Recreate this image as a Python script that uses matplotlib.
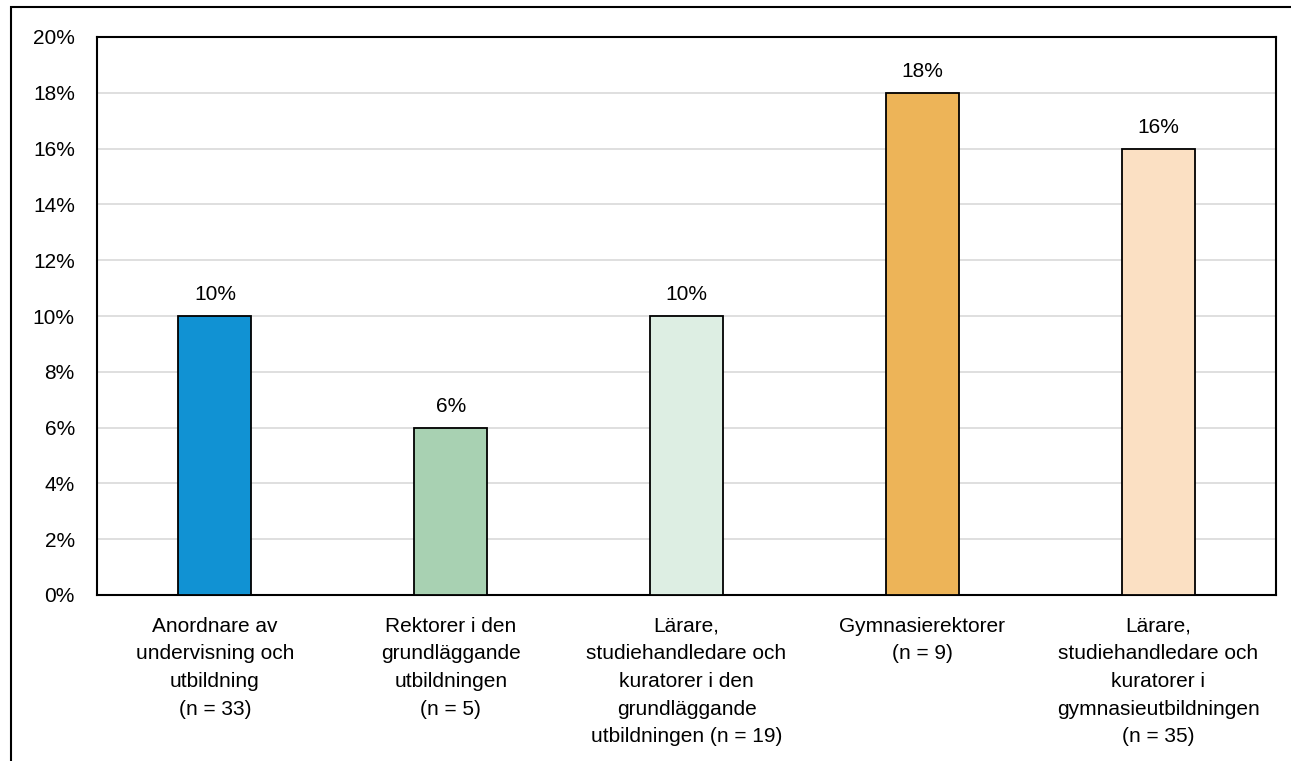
import matplotlib.pyplot as plt
import matplotlib.patches as mpatches
from matplotlib.ticker import FuncFormatter

categories = [
    'Anordnare av\nundervisning och\nutbildning\n(n = 33)',
    'Rektorer i den\ngrundläggande\nutbildningen\n(n = 5)',
    'Lärare,\nstudiehandledare och\nkuratorer i den\ngrundläggande\nutbildningen (n = 19)',
    'Gymnasierektorer\n(n = 9)',
    'Lärare,\nstudiehandledare och\nkuratorer i\ngymnasieutbildningen\n(n = 35)',
]
values = [10, 6, 10, 18, 16]
colors = ['#1192D3', '#A8D1B2', '#DDEEE3', '#EDB458', '#FBE0C3']

plt.rcParams['font.family'] = ['Liberation Sans', 'DejaVu Sans']

fig = plt.figure(figsize=(12.91, 7.61), dpi=100)
ax = fig.add_axes([97/1291, 1 - 595/761, 1179/1291, 558/761])

x = range(len(values))
bars = ax.bar(x, values, width=0.31, color=colors, edgecolor='black', linewidth=1.3, zorder=3)
for b, v in zip(bars, values):
    ax.annotate(f'{v}%', (b.get_x() + b.get_width()/2, v), xytext=(0, 8.5),
                textcoords='offset points', ha='center', va='bottom', fontsize=15)

ax.set_xlim(-0.5, 4.5)
ax.set_ylim(0, 20)
ax.set_yticks(range(0, 21, 2))
ax.yaxis.set_major_formatter(FuncFormatter(lambda v, p: f'{int(v)}%'))
ax.set_xticks(list(x))
ax.set_xticklabels(categories, fontsize=15, linespacing=1.58, va='top')
ax.tick_params(axis='both', length=0, labelsize=15)
ax.tick_params(axis='x', pad=15.5)
ax.tick_params(axis='y', pad=16)
ax.grid(axis='y', color='#D9D9D9', linewidth=1.2, zorder=0)
for s in ax.spines.values():
    s.set_linewidth(1.5)

# outer frame (extends past the bottom/right edges)
fig.patches.append(mpatches.Rectangle((11/1291, -0.05), 1.2, 1 - 7/761 + 0.05,
                                      transform=fig.transFigure, fill=False,
                                      edgecolor='black', linewidth=1.5))

fig.savefig('out.png', dpi=100)
